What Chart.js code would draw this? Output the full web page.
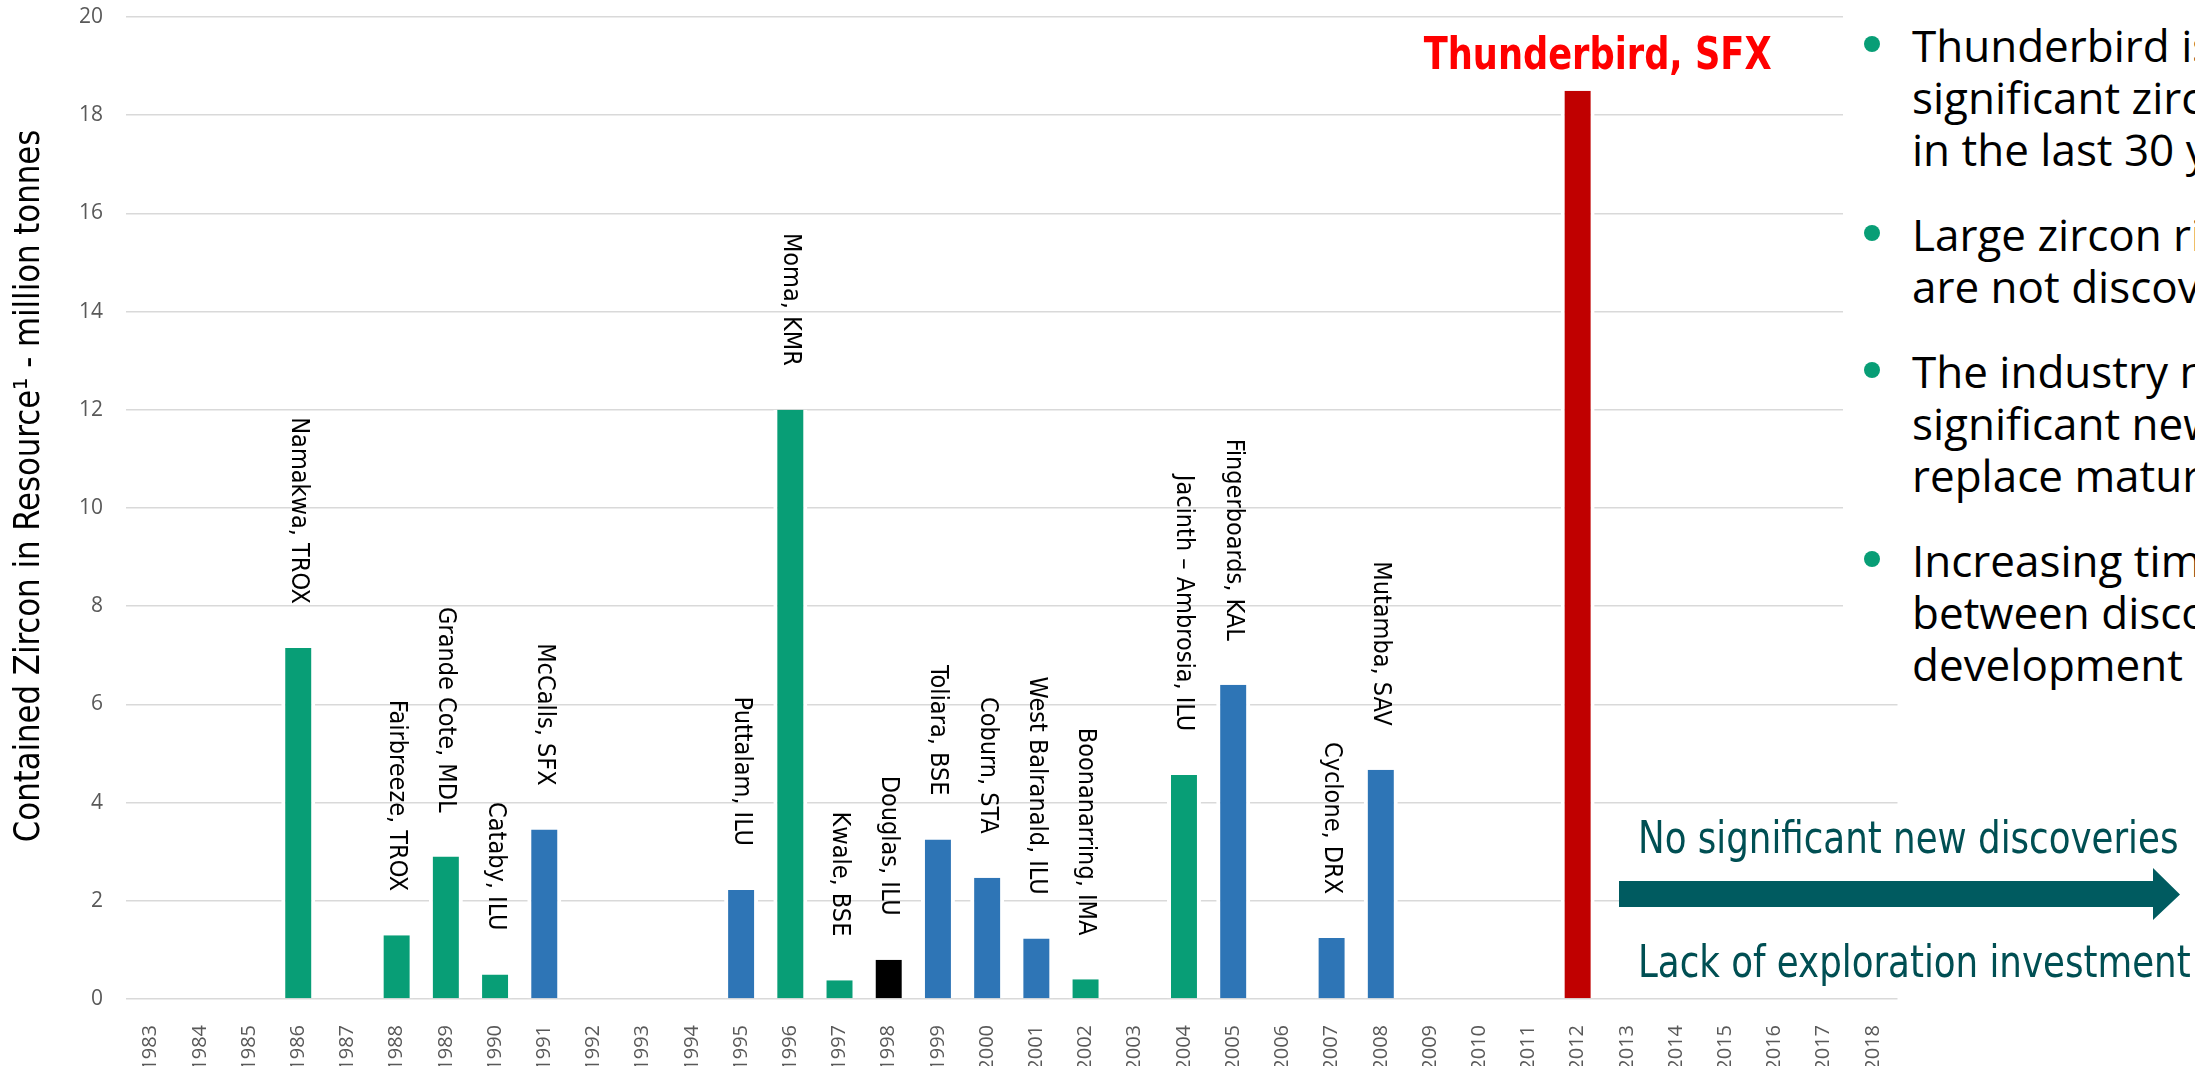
<!DOCTYPE html>
<html>
<head>
<meta charset="utf-8">
<script src="https://cdn.jsdelivr.net/npm/chart.js"></script>
<style>
body{margin:0;width:2195px;height:1066px;overflow:hidden;background:#fff;position:relative;}
#chart{position:absolute;left:0;top:0;}
#notes{position:absolute;left:1843px;top:0;width:352px;height:690px;background:#fff;overflow:hidden;
font-family:"Open Sans","Noto Sans",sans-serif;font-size:44px;line-height:52px;color:#000;white-space:nowrap;}
#notes p{position:relative;margin:0 0 33px 0;padding-left:69px;}
#notes p:first-child{margin-top:19px;}
#notes .dot{position:absolute;left:21px;top:17px;width:16px;height:16px;border-radius:50%;background:#089E76;}
.arrowtxt{position:absolute;left:1638px;font-family:"DejaVu Sans Condensed",sans-serif;
font-size:44px;line-height:44px;color:#004F53;white-space:nowrap;transform:scaleX(0.9);transform-origin:left top;}
#arrow{position:absolute;left:1600px;top:850px;}
</style>
</head>
<body>
<canvas id="chart" width="2195" height="1066"></canvas>

<div id="notes">
<p><span class="dot"></span>Thunderbird is the only<br>significant zircon discovery<br>in the last 30 years</p>
<p><span class="dot"></span>Large zircon rich deposits<br>are not discovered often</p>
<p><span class="dot"></span>The industry needs<br>significant new discoveries to<br>replace maturing mines</p>
<p><span class="dot"></span>Increasing time lag<br>between discovery and<br>development</p>
</div>

<svg id="arrow" width="595" height="80">
<polygon points="19,31 553,31 553,18 580,44.5 553,70 553,57 19,57" fill="#005B60"/>
</svg>
<div class="arrowtxt" style="top:816px">No significant new discoveries</div>
<div class="arrowtxt" style="top:940px">Lack of exploration investment</div>

<script>
// discovery year of each deposit
const years = ["1983","1984","1985","1986","1987","1988","1989","1990","1991","1992","1993","1994",
"1995","1996","1997","1998","1999","2000","2001","2002","2003","2004","2005","2006",
"2007","2008","2009","2010","2011","2012","2013","2014","2015","2016","2017","2018"];

// contained zircon, million tonnes
const zircon = [null,null,null,7.15,null,1.3,2.9,0.5,3.45,null,null,null,
2.22,12.0,0.38,0.8,3.25,2.47,1.23,0.4,null,4.56,6.4,null,
1.24,4.67,null,null,null,18.5,null,null,null,null,null,null];

const deposits = ["","","","Namakwa, TROX","","Fairbreeze, TROX","Grande Cote, MDL","Cataby, ILU","McCalls, SFX","","","",
"Puttalam, ILU","Moma, KMR","Kwale, BSE","Douglas, ILU","Toliara, BSE","Coburn, STA","West Balranald, ILU","Boonanarring, IMA","","Jacinth \u2013 Ambrosia, ILU","Fingerboards, KAL","",
"Cyclone, DRX","Mutamba, SAV","","","","Thunderbird, SFX","","","","","",""];

const status = ["","","","producing","","producing","producing","producing","undeveloped","","","",
"undeveloped","producing","producing","depleted","undeveloped","undeveloped","undeveloped","producing","","producing","undeveloped","",
"undeveloped","undeveloped","","","","thunderbird","","","","","",""];

const statusColors = {
producing:"#089E76",
undeveloped:"#2E75B6",
depleted:"#000000",
thunderbird:"#C00000"
};

const narrow = '"DejaVu Sans Condensed",sans-serif';

const namePlugin = {
id:"barNames",
afterDatasetsDraw(chart){
const ctx = chart.ctx;
const bars = chart.getDatasetMeta(0).data;
bars.forEach((bar,i)=>{
if(zircon[i]==null || !deposits[i]) return;
ctx.save();
if(status[i]==="thunderbird"){
ctx.translate(bar.x + 20, bar.y - 22);
ctx.scale(0.87,1);
ctx.font = "bold 45px " + narrow;
ctx.fillStyle = "#FF0000";
ctx.textAlign = "center";
ctx.textBaseline = "alphabetic";
ctx.fillText(deposits[i], 0, 0);
}else{
ctx.translate(bar.x, bar.y - 44);
ctx.rotate(Math.PI/2);
ctx.font = "25px " + narrow;
ctx.fillStyle = "#000";
ctx.textAlign = "right";
ctx.textBaseline = "middle";
ctx.fillText(deposits[i], 0, 0);
}
ctx.restore();
});
// y axis title
ctx.save();
ctx.translate(30, 486);
ctx.rotate(-Math.PI/2);
ctx.scale(0.95,1);
ctx.font = "36px " + narrow;
ctx.fillStyle = "#000";
ctx.textAlign = "center";
ctx.textBaseline = "middle";
ctx.fillText("Contained Zircon in Resource\u00B9 - million tonnes", 0, 0);
ctx.restore();
}
};

new Chart(document.getElementById("chart"),{
type:"bar",
data:{
labels:years,
datasets:[{
data:zircon,
backgroundColor:status.map(s=>statusColors[s] || "#fff"),
borderColor:"#ffffff",
borderWidth:{left:4,right:4,top:0,bottom:0},
borderSkipped:false,
barPercentage:0.69,
categoryPercentage:1
}]
},
options:{
responsive:false,
animation:false,
layout:{padding:{left:0,top:17,right:297.5,bottom:0}},
plugins:{legend:{display:false},tooltip:{enabled:false}},
scales:{
x:{
grid:{display:false},
border:{display:false},
ticks:{
autoSkip:false,
minRotation:90,
maxRotation:90,
padding:18,
color:"#595959",
font:{family:'"Open Sans","Noto Sans",sans-serif',size:20}
},
afterFit(scale){ scale.height = 67; }
},
y:{
min:0,
max:20,
border:{display:false},
grid:{color:"#D9D9D9",lineWidth:1.5,drawTicks:true,tickLength:23,tickColor:"rgba(0,0,0,0)"},
ticks:{
stepSize:2,
padding:0,
color:"#595959",
font:{family:'"Open Sans","Noto Sans",sans-serif',size:21}
},
afterFit(scale){ scale.width = 126; }
}
}
},
plugins:[namePlugin]
});
</script>
</body>
</html>
